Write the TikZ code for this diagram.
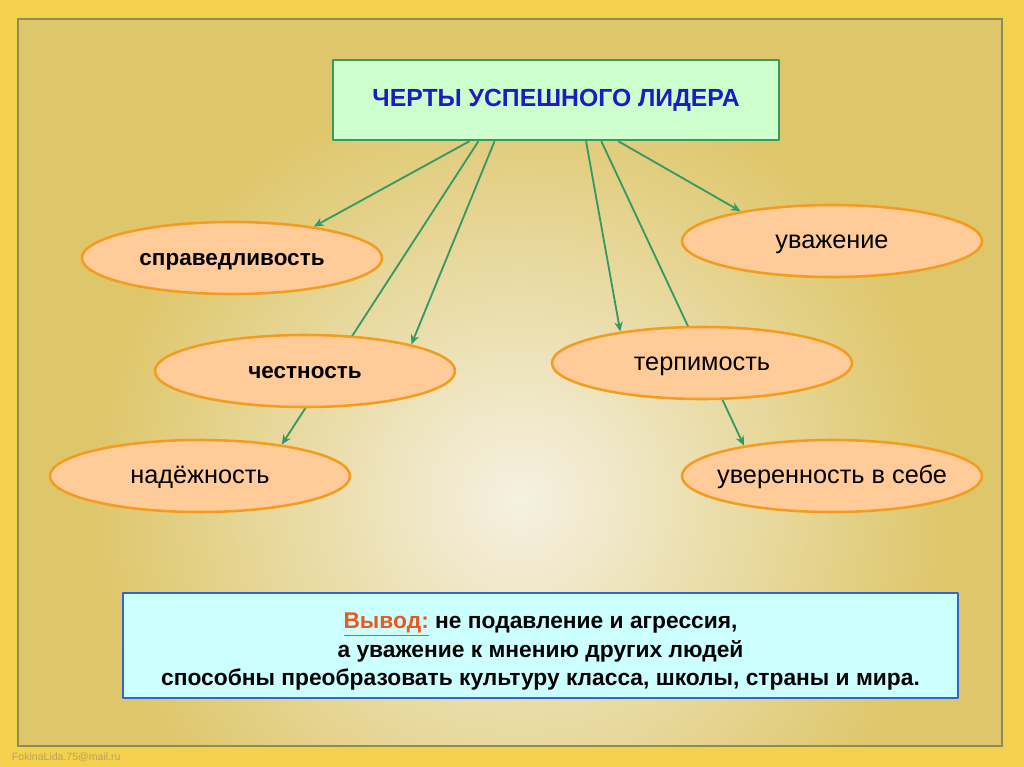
\documentclass[tikz,border=0pt]{standalone}
\usepackage{fontspec}
\setmainfont{Liberation Sans}
\usetikzlibrary{shapes.geometric,calc,arrows.meta}
\definecolor{slidegold}{HTML}{F4D04C}
\definecolor{slidebase}{HTML}{DEC66A}
\definecolor{slidelight}{HTML}{F5F1E2}
\definecolor{framegray}{HTML}{8E8B5A}
\definecolor{titlefill}{HTML}{CCFFCC}
\definecolor{titleline}{HTML}{3A9A5E}
\definecolor{titleblue}{HTML}{1C1CC4}
\definecolor{traitfill}{HTML}{FFCC99}
\definecolor{traitline}{HTML}{F39C1F}
\definecolor{linkgreen}{HTML}{339966}
\definecolor{notefill}{HTML}{CCFFFF}
\definecolor{noteline}{HTML}{3366CC}
\definecolor{vyvod}{HTML}{E85A1E}
\pgfdeclarelayer{back}
\pgfdeclarelayer{links}
\pgfsetlayers{back,links,main}
\begin{document}
\begin{tikzpicture}[x=0.025cm,y=-0.025cm,line cap=round,line join=round,>={Stealth[length=7pt,width=6pt]},
		trait/.style={ellipse,draw=traitline,fill=traitfill,line width=1.8pt,minimum width=7.5cm,minimum height=1.8cm,inner sep=0pt,inner xsep=-1.5cm,text height=11pt,text depth=0pt},
		boldtrait/.style={trait,font=\fontsize{16}{19}\selectfont\bfseries},
		plaintrait/.style={trait,font=\fontsize{18}{20}\selectfont},
		link/.style={->,draw=linkgreen,line width=1.3pt}]
			\useasboundingbox (0,0) rectangle (1024,767);
			% slide background
			\begin{pgfonlayer}{back}
				\fill[slidegold] (0,0) rectangle (1024,767);
				\fill[slidebase] (18,19) rectangle (1002,746);
				\begin{scope}
					\clip (18,19) rectangle (1002,746);
					\shade[inner color=slidelight,outer color=slidebase] (520,500) circle (10.75cm);
				\end{scope}
				\draw[framegray,line width=0.8pt] (18,19) rectangle (1002,746);
			\end{pgfonlayer}
			\node[draw=titleline,fill=titlefill,line width=1.8pt,minimum width=11.15cm,minimum height=2cm,text=titleblue,font=\fontsize{17.6}{20}\selectfont\bfseries] (title) at (556,100) {ЧЕРТЫ УСПЕШНОГО ЛИДЕРА};
			% traits
			\node[boldtrait] (just) at (232,258) {справедливость};
			\node[boldtrait] (honest) at (305,371) {честность};
			\node[plaintrait] (reliable) at (200,476) {надёжность};
			\node[plaintrait] (respect) at (832,241) {уважение};
			\node[plaintrait] (tolerance) at (702,363) {терпимость};
			\node[plaintrait] (confidence) at (832,476) {уверенность в себе};
			\begin{pgfonlayer}{links}
				\draw[link] ($(title.south west)!.307!(title.south east)$) -- (just.21);
				\draw[link] ($(title.south west)!.327!(title.south east)$) -- (reliable.21);
				\draw[link] ($(title.south west)!.363!(title.south east)$) -- (honest.14);
				\draw[link] ($(title.south west)!.567!(title.south east)$) -- (tolerance.159);
				\draw[link] ($(title.south west)!.601!(title.south east)$) -- (confidence.161);
				\draw[link] ($(title.south west)!.639!(title.south east)$) -- (respect.162);
			\end{pgfonlayer}
			% conclusion
			\node[draw=noteline,fill=notefill,line width=1.5pt,minimum width=20.875cm,minimum height=2.625cm] (note) at (540.5,645.5) {};
			\node[align=center,font=\fontsize{16.2}{20.3}\selectfont\bfseries] (notetext) at ([yshift=-4.5pt]note.center)
				{\textcolor{vyvod}{\underline{Вывод:}} не подавление и агрессия,\\а уважение к мнению других людей\\способны преобразовать культуру класса, школы, страны и мира.};
			\node[anchor=west,text=gray,opacity=0.55,font=\fontsize{7.5}{9}\selectfont] (credit) at (7,757) {FokinaLida.75@mail.ru};
		\end{tikzpicture}
\end{document}
